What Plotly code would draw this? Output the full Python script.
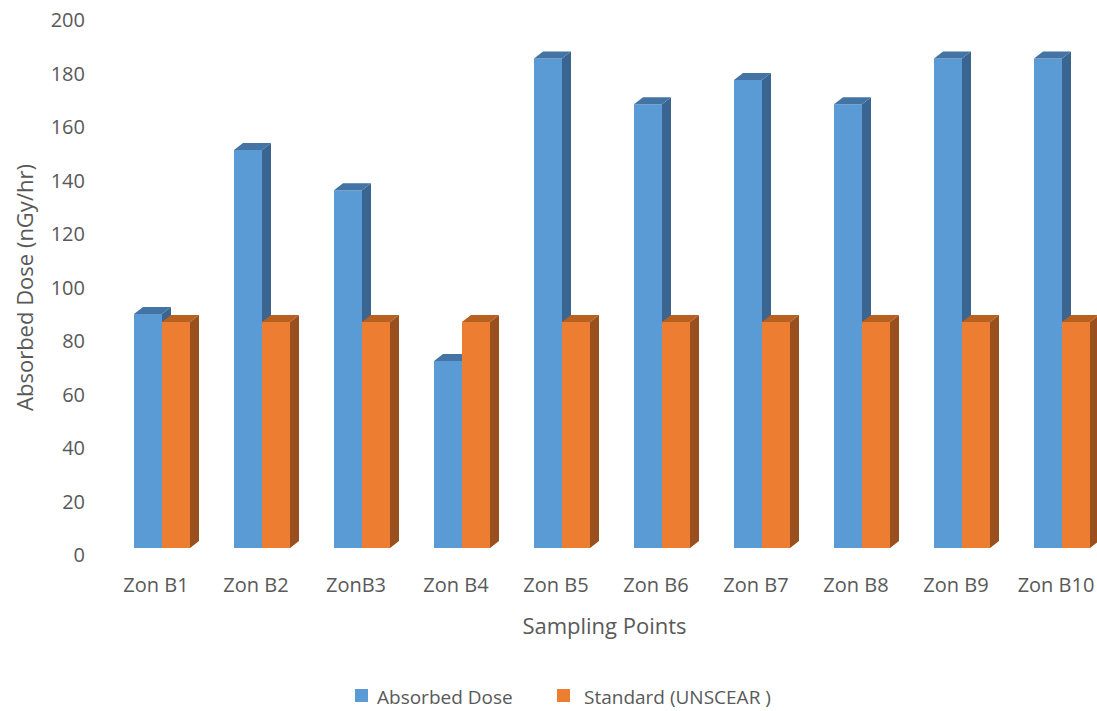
import plotly.graph_objects as go

# Sampling points and measured absorbed dose rates (nGy/hr)
categories = ["Zon B1", "Zon B2", "ZonB3", "Zon B4", "Zon B5",
              "Zon B6", "Zon B7", "Zon B8", "Zon B9", "Zon B10"]
absorbed_dose = [87, 148, 133, 69.5, 182, 165, 174, 165, 182, 182]
unscear_standard = [84, 84, 84, 84, 84, 84, 84, 84, 84, 84]
y_ticks = [0, 20, 40, 60, 80, 100, 120, 140, 160, 180, 200]

# Bar geometry (category units) and pseudo-3D depth offsets
BAR_W = 0.28
DEPTH_X = 0.09      # horizontal shift of the back face, in category units
DEPTH_Y = 2.6       # vertical shift of the back face, in data units
X_RANGE = [-0.5, 9.35]
Y_RANGE = [-2.6, 196.3]

# each series lives on its own overlaid axis pair so the orange columns
# are layered in front of the blue ones
series = [
    dict(name="Absorbed Dose", values=absorbed_dose, offset=-BAR_W,
         front="#5B9BD5", top="#4374A3", side="#3A6590", xa="x", ya="y"),
    dict(name="Standard (UNSCEAR )", values=unscear_standard, offset=0.0,
         front="#ED7D31", top="#B8601F", side="#9A4F1E", xa="x2", ya="y3"),
]

fig = go.Figure()


def box_faces(xl, xr, v):
    """Top and right-side polygons of a column whose front face spans xl..xr, 0..v."""
    top_x = [xl, xr, xr + DEPTH_X, xl + DEPTH_X, xl]
    top_y = [v, v, v + DEPTH_Y, v + DEPTH_Y, v]
    side_x = [xr, xr + DEPTH_X, xr + DEPTH_X, xr, xr]
    side_y = [0, DEPTH_Y, v + DEPTH_Y, v, 0]
    return (top_x, top_y), (side_x, side_y)


for s in series:
    # front faces of the columns
    fig.add_trace(go.Bar(
        x=list(range(len(categories))), y=s["values"], base=0,
        width=BAR_W, offset=s["offset"], name=s["name"],
        marker=dict(color=s["front"], line=dict(width=0)),
        xaxis=s["xa"], yaxis=s["ya"], showlegend=False,
    ))
    # side and top faces
    for i, v in enumerate(s["values"]):
        xl = i + s["offset"]
        xr = xl + BAR_W
        (tx, ty), (sx, sy) = box_faces(xl, xr, v)
        for px, py, col in ((sx, sy, s["side"]), (tx, ty, s["top"])):
            fig.add_trace(go.Scatter(
                x=px, y=py, mode="lines", fill="toself", fillcolor=col,
                line=dict(width=0, color=col), hoverinfo="skip",
                xaxis=s["xa"], yaxis=s["ya"], showlegend=False,
            ))

# an empty trace keeps the labelled value axis active
fig.add_trace(go.Scatter(x=[None], y=[None], xaxis="x", yaxis="y2",
                         showlegend=False, hoverinfo="skip"))

font_family = "Open Sans, Lato, sans-serif"
text_color = "#595959"
TICK_SIZE = 20
TITLE_SIZE = 22
LEGEND_SIZE = 19

hidden = dict(showgrid=False, zeroline=False, showline=False,
              showticklabels=False, ticks="", automargin=False)

fig.update_layout(
    width=1097, height=711,
    margin=dict(l=112, r=0, t=20, b=156, autoexpand=False),
    plot_bgcolor="white", paper_bgcolor="white",
    barmode="overlay", showlegend=False,
    font=dict(family=font_family, color=text_color, size=TICK_SIZE),
    xaxis=dict(
        range=X_RANGE, tickmode="array",
        tickvals=list(range(len(categories))), ticktext=categories,
        showgrid=False, zeroline=False, showline=False, ticks="",
        ticklabelstandoff=16, ticklabelshift=-6, automargin=False,
        tickfont=dict(size=TICK_SIZE, color=text_color),
        title=dict(text="Sampling Points", standoff=21,
                   font=dict(size=TITLE_SIZE, color=text_color)),
    ),
    xaxis2=dict(overlaying="x", range=X_RANGE, **hidden),
    # geometry axes for the column faces (not labelled)
    yaxis=dict(range=Y_RANGE, **hidden),
    yaxis3=dict(overlaying="y", range=Y_RANGE, **hidden),
    # labelled value axis on the back wall
    yaxis2=dict(
        overlaying="y", side="left", range=[0, 200],
        tickmode="array", tickvals=y_ticks,
        showgrid=False, zeroline=False, showline=False, ticks="",
        ticklabelstandoff=26, automargin=False,
        tickfont=dict(size=TICK_SIZE, color=text_color),
        title=dict(text="Absorbed Dose (nGy/hr)", standoff=10,
                   font=dict(size=TITLE_SIZE, color=text_color)),
    ),
)

# legend: colour swatches with series names beneath the chart
legend_y = 697
swatch_x = [355, 557]
label_x = [375, 582]
for s, sx, lx in zip(series, swatch_x, label_x):
    fig.add_shape(type="rect", xref="paper", yref="paper",
                  x0=(sx - 112) / 985, x1=(sx + 13 - 112) / 985,
                  y0=(555 - legend_y - 5) / 535, y1=(555 - legend_y + 8) / 535,
                  fillcolor=s["front"], line=dict(width=0))
    fig.add_annotation(text=s["name"], xref="paper", yref="paper",
                       x=(lx - 112) / 985, y=(555 - legend_y) / 535,
                       xanchor="left", yanchor="middle", showarrow=False,
                       font=dict(size=LEGEND_SIZE, color=text_color))

fig.write_html("out.html")
